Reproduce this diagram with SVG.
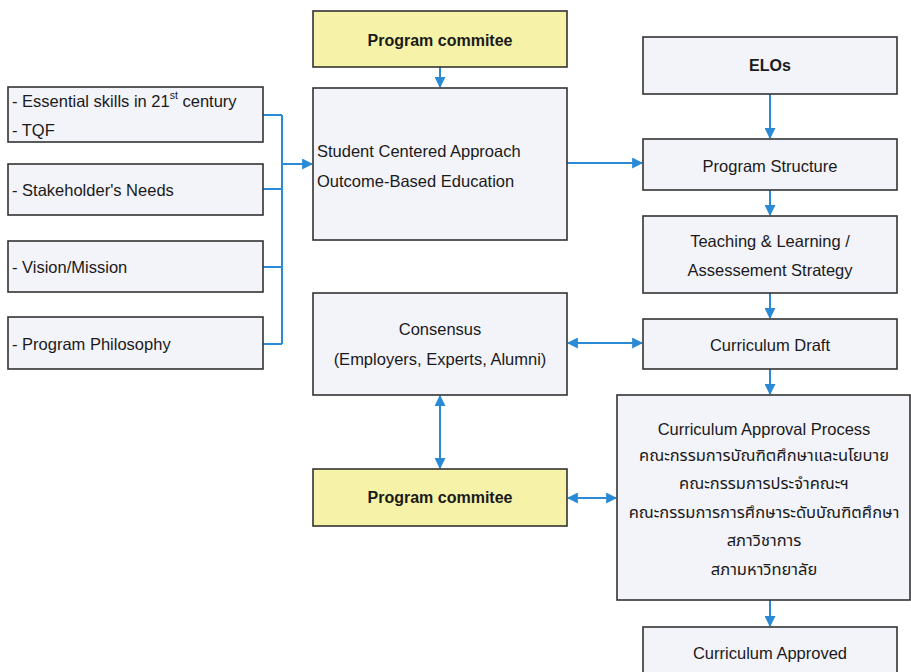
<svg xmlns="http://www.w3.org/2000/svg" width="911" height="672" viewBox="0 0 911 672">
<style>
.box{fill:#f3f3fa;stroke:#333;stroke-width:1.6}
.yel{fill:#f6f2a8;stroke:#333;stroke-width:1.6}
text{font-family:"Liberation Sans",Arial,"Noto Sans Thai","Noto Sans",sans-serif;font-size:16.5px;fill:#1a1a1a}
.c{text-anchor:middle}
.b{font-weight:bold;font-size:16px}
.ln{fill:none;stroke:#2b8ad6;stroke-width:2}
</style>
<defs>
<marker id="ah" viewBox="0 0 10 10" refX="9" refY="5" markerWidth="5.5" markerHeight="5.5" orient="auto-start-reverse">
<path d="M0,0 L10,5 L0,10 z" fill="#2b8ad6"/>
</marker>
</defs>
<rect width="911" height="672" fill="#fff"/>
<g id="connectors">
<path class="ln" d="M263,115 H282 M263,189 H282 M263,267 H282 M263,344 H282 M282,115 V344"/>
<path class="ln" d="M282,164 H312" marker-end="url(#ah)"/>
<path class="ln" d="M440,67 V87" marker-end="url(#ah)"/>
<path class="ln" d="M567,163 H642" marker-end="url(#ah)"/>
<path class="ln" d="M770,94 V138" marker-end="url(#ah)"/>
<path class="ln" d="M770,190 V215" marker-end="url(#ah)"/>
<path class="ln" d="M770,293 V318" marker-end="url(#ah)"/>
<path class="ln" d="M770,369 V394" marker-end="url(#ah)"/>
<path class="ln" d="M770,600 V626" marker-end="url(#ah)"/>
<path class="ln" d="M568,343 H642" marker-start="url(#ah)" marker-end="url(#ah)"/>
<path class="ln" d="M440,396 V468" marker-start="url(#ah)" marker-end="url(#ah)"/>
<path class="ln" d="M568,498 H616" marker-start="url(#ah)" marker-end="url(#ah)"/>
</g>
<g id="essential">
<rect class="box" x="8" y="87" width="255" height="55"/>
<text x="12" y="107">- Essential skills in 21<tspan font-size="10.5" dy="-8">st</tspan><tspan dy="8"> century</tspan></text>
<text x="12" y="136">- TQF</text>
</g>
<g id="stakeholder">
<rect class="box" x="8" y="164" width="255" height="51"/>
<text x="12" y="196">- Stakeholder's Needs</text>
</g>
<g id="vision">
<rect class="box" x="8" y="241" width="255" height="51"/>
<text x="12" y="273">- Vision/Mission</text>
</g>
<g id="philosophy">
<rect class="box" x="8" y="317" width="255" height="52"/>
<text x="12" y="350">- Program Philosophy</text>
</g>
<g id="committee1">
<rect class="yel" x="313" y="11" width="254" height="56"/>
<text class="c b" x="440" y="46">Program commitee</text>
</g>
<g id="approach">
<rect class="box" x="313" y="88" width="254" height="152"/>
<text x="317" y="157">Student Centered Approach</text>
<text x="317" y="187">Outcome-Based Education</text>
</g>
<g id="consensus">
<rect class="box" x="313" y="293" width="254" height="102"/>
<text class="c" x="440" y="335">Consensus</text>
<text class="c" x="440" y="365">(Employers, Experts, Alumni)</text>
</g>
<g id="committee2">
<rect class="yel" x="313" y="469" width="254" height="57"/>
<text class="c b" x="440" y="503">Program commitee</text>
</g>
<g id="elos">
<rect class="box" x="643" y="37" width="254" height="57"/>
<text class="c b" x="770" y="71">ELOs</text>
</g>
<g id="structure">
<rect class="box" x="643" y="139" width="254" height="51"/>
<text class="c" x="770" y="172">Program Structure</text>
</g>
<g id="teaching">
<rect class="box" x="643" y="216" width="254" height="77"/>
<text class="c" x="770" y="247">Teaching &amp; Learning /</text>
<text class="c" x="770" y="276">Assessement Strategy</text>
</g>
<g id="draft">
<rect class="box" x="643" y="319" width="254" height="50"/>
<text class="c" x="770" y="351">Curriculum Draft</text>
</g>
<g id="approval">
<rect class="box" x="617" y="395" width="293" height="205"/>
<text class="c" x="764" y="435">Curriculum Approval Process</text>
<text class="c" x="764" y="461">คณะกรรมการบัณฑิตศึกษาและนโยบาย</text>
<text class="c" x="764" y="489">คณะกรรมการประจำคณะฯ</text>
<text class="c" x="764" y="518">คณะกรรมการการศึกษาระดับบัณฑิตศึกษา</text>
<text class="c" x="764" y="546">สภาวิชาการ</text>
<text class="c" x="764" y="575">สภามหาวิทยาลัย</text>
</g>
<g id="approved">
<rect class="box" x="643" y="627" width="254" height="60"/>
<text class="c" x="770" y="659">Curriculum Approved</text>
</g>
</svg>
